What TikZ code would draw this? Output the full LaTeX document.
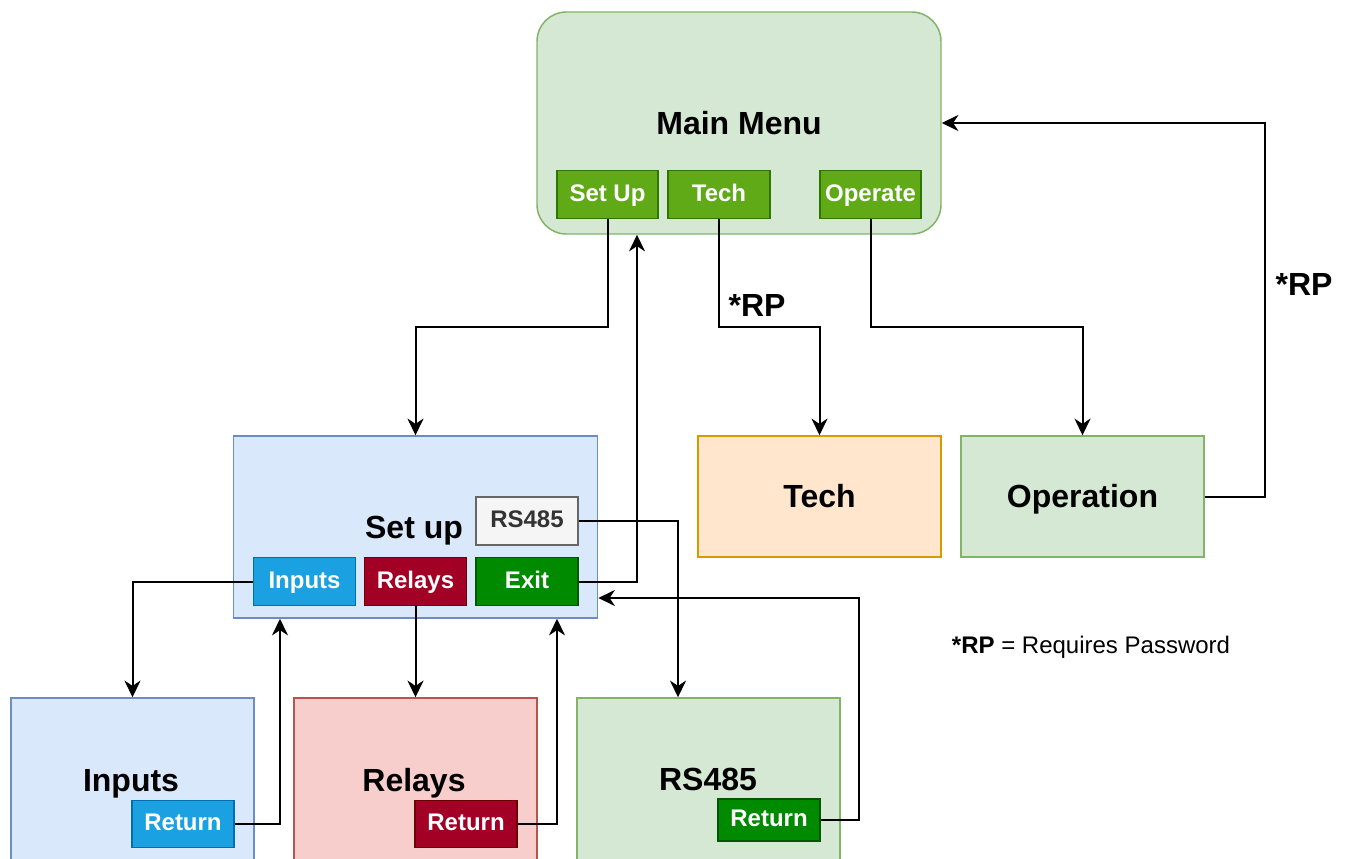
\documentclass[tikz,border=0pt]{standalone}
\usepackage{fontspec}
\setmainfont{Liberation Sans}
\usetikzlibrary{arrows.meta}
\definecolor{gfill}{HTML}{D5E8D4}
\definecolor{gdraw}{HTML}{82B366}
\definecolor{bfill}{HTML}{DAE8FC}
\definecolor{bdraw}{HTML}{6C8EBF}
\definecolor{ofill}{HTML}{FFE6CC}
\definecolor{odraw}{HTML}{D79B00}
\definecolor{rfill}{HTML}{F8CECC}
\definecolor{rdraw}{HTML}{B85450}
\definecolor{lgfill}{HTML}{60A917}
\definecolor{lgdraw}{HTML}{2D7600}
\definecolor{cyfill}{HTML}{1BA1E2}
\definecolor{cydraw}{HTML}{006EAF}
\definecolor{crfill}{HTML}{A20025}
\definecolor{crdraw}{HTML}{6F0000}
\definecolor{dgfill}{HTML}{008A00}
\definecolor{dgdraw}{HTML}{005700}
\definecolor{gyfill}{HTML}{F5F5F5}
\definecolor{gydraw}{HTML}{666666}
\definecolor{gytext}{HTML}{333333}
\begin{document}
\begin{tikzpicture}[x=0.75pt,y=-0.75pt,
  wh/.style 2 args={minimum width=#1*0.75pt, minimum height=#2*0.75pt, inner sep=0pt},
  bigfont/.style={font=\bfseries\fontsize{24}{28}\selectfont, text height=17.2pt, text depth=0pt},
  panel/.style={draw=#1draw, fill=#1fill, line width=1.1pt, bigfont},
  btn/.style={draw=#1draw, fill=#1fill, line width=1.1pt, text=white,
    font=\bfseries\fontsize{18}{21}\selectfont, text height=11pt, text depth=0.6pt},
  biglabel/.style={bigfont, inner sep=0pt},
  conn/.style={line width=1.5pt, -{Stealth[length=12.5pt,width=12pt,inset=4pt]}},
  line/.style={line width=1.5pt}]
\useasboundingbox (0,0) rectangle (1345,859);
\clip (0,0) rectangle (1345,859);

% helper coordinates
\coordinate (y327) at (0,327);
\coordinate (y598) at (0,598);
\coordinate (x637) at (637,0);
\coordinate (x678) at (678,0);
\coordinate (x1265) at (1265,0);
\coordinate (x280) at (280,0);
\coordinate (x557) at (557,0);
\coordinate (x859) at (859,0);

% main menu
\node[panel=g, wh={404}{222}, rounded corners=22pt] (mainmenu) at (739,123) {Main Menu};
\node[btn=lg, wh={101}{48}] (setupb) at (607.5,194.5) {Set Up};
\node[btn=lg, wh={102}{48}] (techb) at (719,194.5) {Tech};
\node[btn=lg, wh={101}{48}] (operb) at (870.5,194.5) {Operate};

% set up
\node[panel=b, wh={364}{182}] (setupbox) at (415.5,527) {};
\node[biglabel] (setuplbl) at (414,527.5) {Set up};
\node[btn=gy, text=gytext, wh={102}{48}] (rsb) at (527,521) {RS485};
\node[btn=cy, wh={102}{48}] (inb) at (304.5,581.5) {Inputs};
\node[btn=cr, wh={102}{48}] (relb) at (415.5,581.5) {Relays};
\node[btn=dg, wh={102}{48}] (exitb) at (527,581.5) {Exit};

% tech / operation
\node[panel=o, wh={243}{121}] (techbox) at (819.5,496.5) {Tech};
\node[panel=g, wh={243}{121}] (opbox) at (1082.5,496.5) {Operation};

% bottom boxes
\node[panel=b, wh={243}{220}] (inbox) at (132.5,808) {};
\node[biglabel] (inlbl) at (131,780) {Inputs};
\node[btn=cy, wh={102}{47}] (inret) at (183,824) {Return};

\node[panel=r, wh={243}{220}] (relbox) at (415.5,808) {};
\node[biglabel] (rellbl) at (414,780) {Relays};
\node[btn=cr, wh={102}{47}] (relret) at (466,824) {Return};

\node[panel=g, wh={263}{220}] (rsbox) at (708.5,808) {};
\node[biglabel] (rslbl) at (708,779.5) {RS485};
\node[btn=dg, wh={102}{42}] (rsret) at (769,820) {Return};

% labels
\node[biglabel] (rp1) at (757,305) {*RP};
\node[biglabel] (rp2) at (1304,284) {*RP};
\node[font=\fontsize{18}{21}\selectfont] (legend) at (1091,647) {\textbf{*RP} = Requires Password};

% connectors
\draw[conn] (setupb.south) -- (setupb.south |- y327) -| (setupbox.north);
\draw[conn] (exitb.east) -| (mainmenu.south -| x637);
\draw[conn] (techb.south) -- (techb.south |- y327) -| (techbox.north);
\draw[conn] (operb.south) -- (operb.south |- y327) -| (opbox.north);
\draw[conn] (opbox.east) -- (opbox.east -| x1265) |- (mainmenu.east);
\draw[conn] (inb.west) -| (inbox.north);
\draw[conn] (relb.south) -- (relbox.north);
\draw[conn] (rsb.east) -| (rsbox.north -| x678);
\draw[conn] (inret.east) -| (setupbox.south -| x280);
\draw[conn] (relret.east) -| (setupbox.south -| x557);
\draw[conn] (rsret.east) -- (rsret.east -| x859) -- (x859 |- y598) -- (setupbox.east |- y598);
\end{tikzpicture}
\end{document}
